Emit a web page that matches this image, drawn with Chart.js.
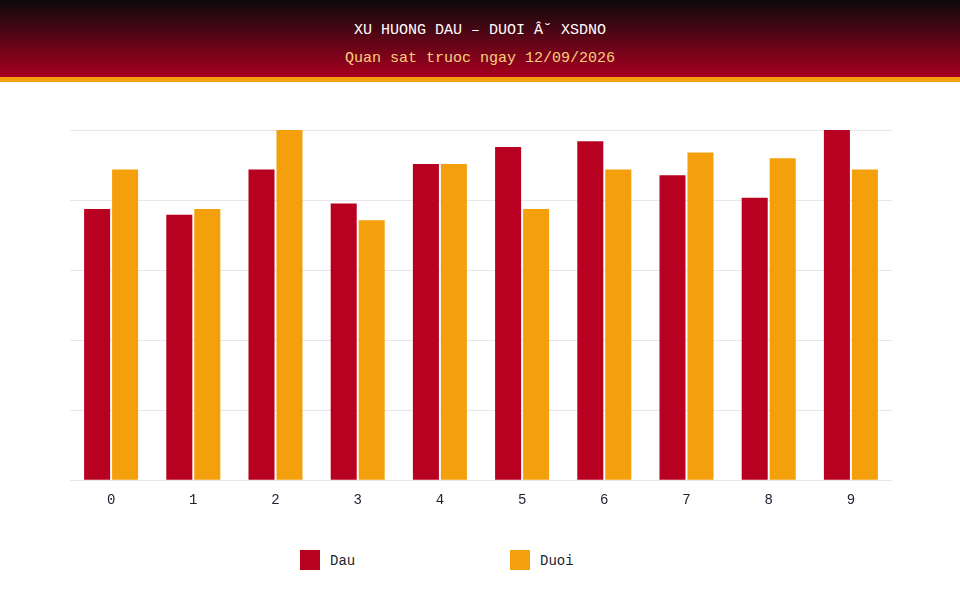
<!DOCTYPE html>
<html>
<head>
<meta charset="utf-8">
<script src="https://cdn.jsdelivr.net/npm/chart.js@4.4.1/dist/chart.umd.min.js"></script>
<style>
    body { margin: 0; width: 960px; height: 610px; background: #fff; font-family: 'Liberation Mono', monospace; overflow: hidden; }
    .header { height: 77px; background: linear-gradient(#0b0a0c, #a8001f); border-bottom: 5px solid #f5a10f; text-align: center; }
    .header .title { color: #fff; font-size: 15px; padding-top: 22px; line-height: 18px; }
    .header .sub { color: #f9cf7f; font-size: 15px; margin-top: 10px; line-height: 18px; }
    .chart-box { position: absolute; left: 0; top: 82px; width: 960px; height: 448px; }
    .legend { position: absolute; top: 550px; left: 0; width: 960px; height: 20px; }
    .legend span.box { position: absolute; width: 20px; height: 20px; top: 0; }
    .legend span.lbl { position: absolute; top: 2px; font-size: 14px; line-height: 18px; color: #1b1f2e; }
</style>
</head>
<body>
<div class="header">
    <div class="title">XU HUONG DAU – DUOI Â˘ XSDNO</div>
    <div class="sub">Quan sat truoc ngay 12/09/2026</div>
</div>
<div class="chart-box"><canvas id="chart"></canvas></div>
<div class="legend" id="legend"></div>
<script>
const digits = ['0', '1', '2', '3', '4', '5', '6', '7', '8', '9'];
const dauCounts = [48, 47, 55, 49, 56, 59, 60, 54, 50, 62];
const duoiCounts = [55, 48, 62, 46, 56, 48, 55, 58, 57, 55];
const seriesNames = ['Dau', 'Duoi'];
const seriesColors = ['#b80020', '#f4a00c'];

const ctx = document.getElementById('chart').getContext('2d');
new Chart(ctx, {
    type: 'bar',
    data: {
        labels: digits,
        datasets: [
            { label: seriesNames[0], data: dauCounts, backgroundColor: seriesColors[0] },
            { label: seriesNames[1], data: duoiCounts, backgroundColor: seriesColors[1] }
        ]
    },
    options: {
        responsive: true,
        maintainAspectRatio: false,
        animation: false,
        layout: { padding: { left: 70, right: 68, top: 48, bottom: 9 } },
        datasets: { bar: { categoryPercentage: 0.681, barPercentage: 0.93 } },
        plugins: {
            legend: { display: false },
            tooltip: { enabled: false }
        },
        scales: {
            x: {
                grid: { display: false, drawTicks: false },
                border: { display: false },
                ticks: { color: '#1b1f2e', padding: 12, font: { family: 'Liberation Mono', size: 14 } }
            },
            y: {
                min: 0,
                max: 62,
                ticks: { display: false, count: 6 },
                grid: { color: '#e6e7ec', drawTicks: false },
                border: { display: false }
            }
        }
    }
});

// simple html legend, laid out like the original
const legend = document.getElementById('legend');
const legendX = [300, 510];
seriesNames.forEach((name, i) => {
    const box = document.createElement('span');
    box.className = 'box';
    box.style.left = legendX[i] + 'px';
    box.style.background = seriesColors[i];
    const lbl = document.createElement('span');
    lbl.className = 'lbl';
    lbl.style.left = (legendX[i] + 30) + 'px';
    lbl.textContent = name;
    legend.appendChild(box);
    legend.appendChild(lbl);
});
</script>
</body>
</html>
